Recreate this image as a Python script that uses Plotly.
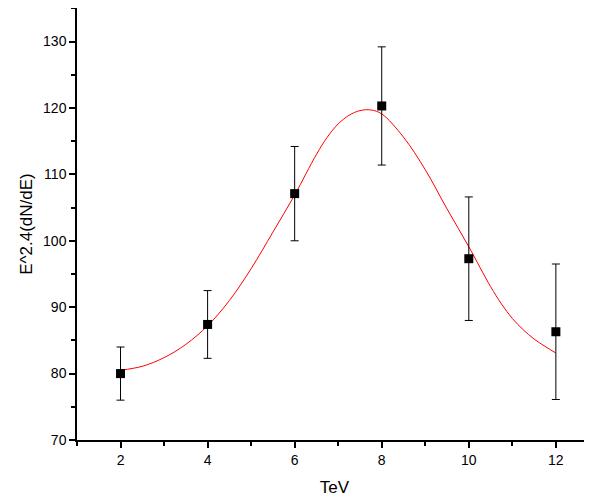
import plotly.graph_objects as go

# Data points
energy = [2, 4, 6, 8, 10, 12]
flux = [80.0, 87.4, 107.1, 120.3, 97.3, 86.3]
flux_err = [4.0, 5.1, 7.1, 8.9, 9.3, 10.2]

# Red fitted curve
fit_x = [2, 2.5, 3, 3.5, 4, 4.5, 5, 5.5, 6, 6.5, 6.75, 7, 7.25, 7.5, 7.75, 8, 8.5, 9, 9.5, 10, 10.5, 10.75, 11, 11.25, 11.5, 11.75, 12]
fit_y = [80.5, 81.1, 82.4, 84.4, 87.2, 91.0, 95.8, 101.3, 106.9, 113.0, 115.6, 117.6, 118.9, 119.6, 119.7, 119.1, 115.6, 110.7, 104.8, 99.1, 93.1, 90.5, 88.3, 86.6, 85.2, 84.1, 83.1]

x_ticks = [2, 4, 6, 8, 10, 12]
y_ticks = [70, 80, 90, 100, 110, 120, 130]

fig = go.Figure()
fig.add_trace(go.Scatter(
    x=fit_x, y=fit_y, mode="lines",
    line=dict(color="#ff0000", width=1, shape="spline", smoothing=1.0),
    showlegend=False, hoverinfo="skip"))
fig.add_trace(go.Scatter(
    x=energy, y=flux, mode="markers",
    marker=dict(symbol="square", size=9, color="black"),
    error_y=dict(type="data", array=flux_err, color="black", thickness=1, width=4),
    showlegend=False))

font_family = "Liberation Sans, Arial, Helvetica, sans-serif"
# page body has an 8px default margin, so the figure is sized/placed to compensate
fig.update_layout(
    width=584, height=496,
    margin=dict(l=69, r=0, t=0, b=64),
    paper_bgcolor="white", plot_bgcolor="white",
    font=dict(family=font_family, color="black", size=14),
    xaxis=dict(
        range=[1, 12.83], tickvals=x_ticks, ticks="outside", ticklen=6, tickwidth=1.5,
        tickcolor="black", showline=True, linecolor="black", linewidth=1.5,
        showgrid=False, zeroline=False, tickfont=dict(size=14), automargin=False,
        minor=dict(dtick=1, tick0=1, ticks="outside", ticklen=4, tickwidth=1.5, tickcolor="black"),
        title=dict(text="TeV", font=dict(size=17), standoff=15)),
    yaxis=dict(
        range=[70, 135.05], tickvals=y_ticks, ticks="outside", ticklen=6, tickwidth=1.5,
        tickcolor="black", showline=True, linecolor="black", linewidth=1.5,
        showgrid=False, zeroline=False, tickfont=dict(size=14), automargin=False,
        minor=dict(dtick=5, tick0=70, ticks="outside", ticklen=4, tickwidth=1.5, tickcolor="black"),
        title=dict(text="E^2.4(dN/dE)", font=dict(size=17), standoff=6)),
)

fig.write_html("out.html")
